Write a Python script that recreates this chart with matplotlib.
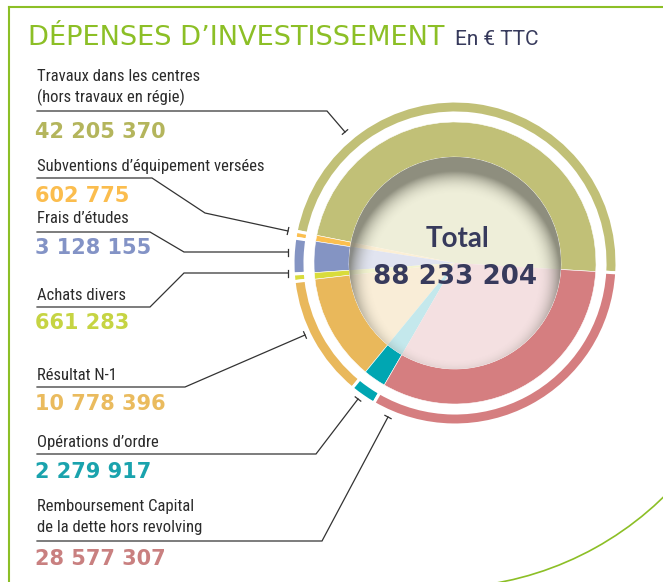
import numpy as np
import matplotlib
matplotlib.use("Agg")
import matplotlib.pyplot as plt
from matplotlib.patches import Circle, Arc

# ---- data ----
labels = [
    "Travaux dans les centres\n(hors travaux en régie)",
    "Subventions d’équipement versées",
    "Frais d’études",
    "Achats divers",
    "Résultat N-1",
    "Opérations d’ordre",
    "Remboursement Capital\nde la dette hors revolving",
]
values = [42205370, 602775, 3128155, 661283, 10778396, 2279917, 28577307]
total = 88233204

ring_colors = ["#c1c077", "#fbbf4f", "#8494c3", "#d9dc3c", "#e9b85b", "#00a6b2", "#d57e80"]
pale_colors = ["#eeeed9", "#fcefd5", "#e1e4f0", "#f3f4d0", "#f9edd7", "#c4e8ec", "#f4e0e1"]
number_colors = ["#b4b55c", "#fbbd4e", "#8393c6", "#c6d443", "#eabb5e", "#1aa3ad", "#c98080"]

# ---- layout (pixel coords, y downwards) ----
W, H = 663, 582
cx, cy = 455, 263
green = "#8cbf26"
navy = "#373a5c"
ink = "#2b2b2b"

label_y = [81, 171, 223, 300, 380, 447, 511]
number_y = [138, 202, 254, 329, 410, 478, 565]
leaders = [
    [(37, 111), (327, 111), (345, 132)],
    [(37, 178), (152, 178), (205, 213), (288, 231)],
    [(37, 232), (150, 232), (184, 252), (288, 252)],
    [(37, 307), (150, 307), (184, 273), (288, 273)],
    [(37, 387), (185, 387), (305, 335)],
    [(37, 454), (316, 454), (358, 399)],
    [(37, 541), (322, 541), (388, 417)],
]

narrow = dict(family=["Roboto Condensed", "DejaVu Sans"], stretch="condensed")


def fmt(v):
    return f"{v:,}".replace(",", " ")


fig = plt.figure(figsize=(W / 100, H / 100), dpi=100)
ax = fig.add_axes([0, 0, 1, 1])

# y axis is inverted below, so counterclock=False turns anticlockwise on screen
start = 3.5
ax.pie(values, colors=ring_colors, radius=162, center=(cx, cy), startangle=start,
       counterclock=False, wedgeprops=dict(width=12, edgecolor="white", linewidth=2.2))
ax.pie(values, colors=ring_colors, radius=141, center=(cx, cy), startangle=start,
       counterclock=False, wedgeprops=dict(width=35, edgecolor="white", linewidth=0.4))
ax.pie(values, colors=pale_colors, radius=106, center=(cx, cy), startangle=start,
       counterclock=False, wedgeprops=dict(linewidth=0))

# inner shadow on the pale disc (darker at the top rim)
r0 = 106
n = 400
g = np.linspace(-r0, r0, n)
gx, gy = np.meshgrid(g, g)
d = r0 - np.hypot(gx, gy - 14)
a = np.clip(1 - d / 24, 0, 1) ** 2.2 * 0.62
shade = np.zeros((n, n, 4))
shade[..., :3] = np.array([0.33, 0.33, 0.28])
shade[..., 3] = a
im = ax.imshow(shade, extent=[cx - r0, cx + r0, cy + r0, cy - r0], origin="upper",
               interpolation="bilinear", zorder=3)
clip = Circle((cx, cy), r0, transform=ax.transData)
im.set_clip_path(clip)

ax.text(cx + 2, cy - 24, "Total", ha="center", va="center", fontsize=20,
        family="Lato", weight="bold", color=navy, zorder=5)
ax.text(cx, cy + 14, fmt(total), ha="center", va="center", fontsize=18.8,
        family="DejaVu Sans", weight="bold", color=navy, zorder=5)

# labels, values and leader lines
for i, lab in enumerate(labels):
    for k, line in enumerate(lab.split("\n")):
        ax.text(37, label_y[i] + 21 * k, line, ha="left", va="baseline", fontsize=12,
                color=ink, **narrow)
    ax.text(35, number_y[i], fmt(values[i]), ha="left", va="baseline", fontsize=15,
            family="DejaVu Sans", weight="bold", color=number_colors[i])
    pts = np.array(leaders[i], dtype=float)
    ax.plot(pts[:, 0], pts[:, 1], color="#333333", lw=0.9, solid_joinstyle="miter")
    v = pts[-1] - pts[-2]
    v = v / np.hypot(*v)
    p = np.array([-v[1], v[0]]) * 3.5
    ax.plot([pts[-1, 0] - p[0], pts[-1, 0] + p[0]], [pts[-1, 1] - p[1], pts[-1, 1] + p[1]],
            color="#333333", lw=0.9)

# title
ax.text(28, 45, "DÉPENSES D’INVESTISSEMENT", ha="left", va="baseline", fontsize=19.6,
        family="DejaVu Sans", color=green)
ax.text(455, 45, "En € TTC", ha="left", va="baseline", fontsize=15,
        family=["Roboto", "DejaVu Sans"], color=navy)

# green frame
ax.plot([8.5, 8.5], [7, H], color=green, lw=1.5)
ax.plot([8.5, W], [7, 7], color=green, lw=1.5)
ax.add_patch(Arc((440, 268), 640, 640, theta1=38, theta2=84, color=green, lw=1.2))

ax.set_xlim(0, W)
ax.set_ylim(H, 0)
ax.set_aspect("equal")
ax.axis("off")

fig.savefig("out.png", dpi=100)
